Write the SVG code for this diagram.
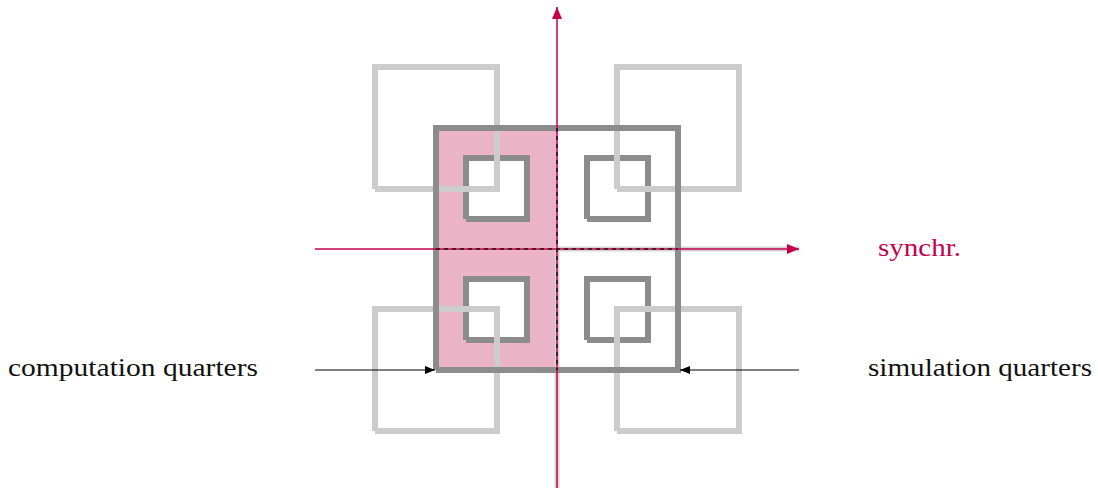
<svg xmlns="http://www.w3.org/2000/svg" width="1098" height="488" viewBox="0 0 1098 488">
<style>
.light{fill:none;stroke:#cccccc;stroke-width:6;stroke-linejoin:miter;stroke-linecap:butt}
.dark{fill:none;stroke:#8c8c8c;stroke-width:6;stroke-linejoin:miter;stroke-linecap:butt}
.hole{fill:#ffffff;stroke:none}
.axis{fill:none;stroke:#c4004e;stroke-width:1.5}
.dash{fill:none;stroke:#2a0a14;stroke-width:1.5;stroke-dasharray:4 4}
.lbl{font-family:"Liberation Serif","DejaVu Serif",serif;font-size:26px;fill:#111}
</style>
<defs>
<marker id="redhead" markerUnits="userSpaceOnUse" markerWidth="14" markerHeight="12" refX="12" refY="5" orient="auto">
<path d="M0,0 L12,5 L0,10 Z" fill="#c4004e"/>
</marker>
<marker id="blackhead" markerUnits="userSpaceOnUse" markerWidth="12" markerHeight="10" refX="10" refY="4" orient="auto">
<path d="M0,0 L10,4 L0,8 Z" fill="#000"/>
</marker>
</defs>
<g id="computation-fill">
<rect x="436" y="128" width="121" height="242" fill="#ebb3c6"/>
<rect class="hole" x="466" y="158" width="61" height="61"/>
<rect class="hole" x="466" y="279" width="61" height="61"/>
</g>
<g id="sync-band">
<path d="M557,488 V249 H799" fill="none" stroke="#d4d4d4" stroke-width="5"/>
</g>
<g id="computation-quarters">
<path class="dark" d="M466,219 V158 H527 V219 H466"/>
<path class="dark" d="M587,219 V158 H648 V219 H587"/>
<path class="dark" d="M466,340 V279 H527 V340 H466"/>
<path class="dark" d="M587,340 V279 H648 V340 H587"/>
</g>
<g id="simulation-quarters">
<path class="light" d="M375,189 V67 H497 V189 H375"/>
<path class="light" d="M617,189 V67 H739 V189 H617"/>
<path class="light" d="M375,431 V309 H497 V431 H375"/>
<path class="light" d="M617,431 V309 H739 V431 H617"/>
</g>
<g id="big-square">
<path class="dark" d="M436,370 V128 H678 V370 H436"/>
</g>
<g id="connectors">
<line class="axis" x1="557" y1="488" x2="557" y2="7" marker-end="url(#redhead)"/>
<line class="axis" x1="315" y1="249" x2="799" y2="249" marker-end="url(#redhead)"/>
<line class="dash" x1="557" y1="128" x2="557" y2="370"/>
<line class="dash" x1="436" y1="249" x2="678" y2="249"/>
<line x1="315" y1="370" x2="435" y2="370" stroke="#000" stroke-width="1" marker-end="url(#blackhead)"/>
<line x1="799" y1="370" x2="680" y2="370" stroke="#000" stroke-width="1" marker-end="url(#blackhead)"/>
</g>
<g id="labels">
<text class="lbl" x="8" y="376" textLength="250" lengthAdjust="spacingAndGlyphs">computation quarters</text>
<text class="lbl" x="868" y="376" textLength="224" lengthAdjust="spacingAndGlyphs">simulation quarters</text>
<text class="lbl" x="878" y="256" textLength="83" lengthAdjust="spacingAndGlyphs" style="fill:#c4004e">synchr.</text>
</g>
</svg>
